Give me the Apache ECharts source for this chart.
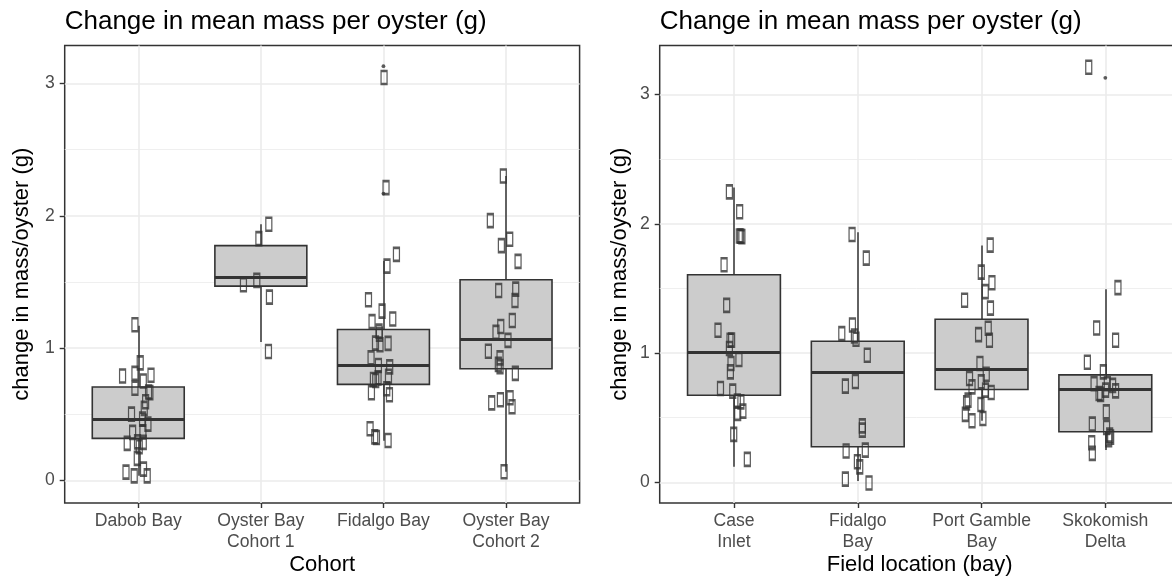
<!DOCTYPE html>
<html>
<head>
<meta charset="utf-8">
<script src="https://cdn.jsdelivr.net/npm/echarts@6/dist/echarts.min.js"></script>
<style>
  html, body { margin: 0; padding: 0; background: #fff; }
  #chart { width: 1172px; height: 579px; }
</style>
</head>
<body>
<div id="chart"></div>
<script>
// ---- data ----
var cohortNames = ['Dabob Bay', 'Oyster Bay\nCohort 1', 'Fidalgo Bay', 'Oyster Bay\nCohort 2'];
// [lower whisker, Q1, median, Q3, upper whisker]
var cohortBoxes = [
  [0.035, 0.318, 0.462, 0.707, 1.17],
  [1.046, 1.469, 1.533, 1.775, 1.936],
  [0.30, 0.726, 0.874, 1.141, 1.658],
  [0.066, 0.844, 1.071, 1.517, 2.301]
];
var cohortOutliers = [[], [], [3.131, 2.168], []];
var cohortPoints = [
  [1.177, 0.889, 0.79, 0.81, 0.795, 0.752, 0.697, 0.669, 0.664, 0.595, 0.545, 0.502, 0.464,
   0.426, 0.368, 0.364, 0.28, 0.292, 0.288, 0.255, 0.167, 0.086, 0.063, 0.035, 0.035],
  [1.936, 1.828, 1.512, 1.479, 1.386, 0.975],
  [3.045, 2.213, 1.709, 1.62, 1.366, 1.28, 1.22, 1.2, 1.129, 1.105, 1.038, 1.026, 1.036, 0.927,
   0.869, 0.859, 0.788, 0.763, 0.756, 0.776, 0.693, 0.663, 0.648, 0.391, 0.33, 0.325, 0.302],
  [2.301, 1.964, 1.823, 1.775, 1.656, 1.436, 1.446, 1.36, 1.209, 1.164, 1.119, 1.059, 0.977,
   0.927, 0.877, 0.86, 0.809, 0.61, 0.587, 0.625, 0.557, 0.066]
];
// horizontal jitter of each point, in category units
var cohortJitter = [
  [-0.027, 0.016, -0.128, -0.027, 0.104, 0.041, -0.027, 0.084, 0.095, 0.060, 0.049, -0.055, 0.035,
   0.079, 0.038, -0.046, -0.090, -0.006, 0.041, 0.008, -0.008, 0.043, -0.100, -0.033, 0.073],
  [0.065, -0.016, -0.033, -0.142, 0.070, 0.062],
  [0.005, 0.021, 0.106, 0.029, -0.122, -0.011, 0.076, -0.093, -0.036, -0.033, -0.065, -0.028, 0.038, -0.101,
   -0.041, 0.051, 0.041, -0.082, -0.063, -0.044, 0.027, -0.098, 0.049, -0.109, -0.071, -0.057, 0.038],
  [-0.022, -0.128, 0.030, -0.038, 0.098, -0.060, 0.079, 0.073, 0.051, -0.043, -0.082, 0.016, -0.144,
   -0.049, -0.063, -0.049, 0.076, -0.046, -0.117, 0.033, 0.049, -0.016]
];

var bayNames = ['Case\nInlet', 'Fidalgo\nBay', 'Port Gamble\nBay', 'Skokomish\nDelta'];
var bayBoxes = [
  [0.12, 0.674, 1.009, 1.606, 2.28],
  [0.01, 0.275, 0.849, 1.091, 1.935],
  [0.476, 0.718, 0.875, 1.261, 1.832],
  [0.25, 0.391, 0.718, 0.831, 1.493]
];
var bayOutliers = [[], [], [], [3.129]];
var bayPoints = [
  [2.247, 2.093, 1.904, 1.9, 1.905, 1.683, 1.369, 1.176, 1.099, 1.10, 1.035, 0.95, 0.919, 0.854,
   0.726, 0.705, 0.628, 0.622, 0.533, 0.551, 0.371, 0.178],
  [1.917, 1.734, 1.15, 1.217, 1.132, 1.107, 0.983, 0.78, 0.744, 0.437, 0.404, 0.242, 0.249, 0.159,
   0.12, 0.025, -0.005],
  [1.835, 1.626, 1.544, 1.475, 1.408, 1.348, 1.192, 1.143, 1.099, 0.919, 0.836, 0.803, 0.777, 0.738,
   0.713, 0.695, 0.636, 0.615, 0.602, 0.525, 0.476, 0.494],
  [3.211, 1.506, 1.194, 1.099, 0.929, 0.854, 0.764, 0.764, 0.75, 0.713, 0.707, 0.687, 0.68, 0.545,
   0.45, 0.425, 0.365, 0.35, 0.33, 0.306, 0.224]
];
var bayJitter = [
  [-0.037, 0.046, 0.054, 0.064, 0.043, -0.080, -0.059, -0.129, -0.032, -0.019, -0.037, 0.040, -0.024, -0.029,
   -0.109, -0.010, 0.027, 0.056, 0.030, 0.072, -0.002, 0.108],
  [-0.046, 0.069, -0.129, -0.043, -0.027, -0.014, 0.077, -0.019, -0.100, 0.037, 0.037, -0.094, 0.061, -0.003,
   0.016, -0.100, 0.091],
  [0.070, -0.002, 0.084, 0.030, -0.137, 0.072, 0.054, -0.024, 0.064, -0.013, 0.038, -0.097, -0.002, -0.077,
   0.032, 0.078, -0.109, -0.121, -0.005, -0.131, -0.077, 0.011],
  [-0.134, 0.102, -0.070, 0.083, -0.145, -0.016, -0.091, 0.016, 0.059, 0.002, 0.083, -0.051, -0.038, 0.008,
   -0.105, 0.010, 0.035, 0.043, 0.027, -0.110, -0.105]
];

var yTicks = [0, 1, 2, 3];

// ---- layout ----
var FONT = "'Liberation Sans', Arial, Helvetica, sans-serif";
var INK = '#333333';
var GRID_COL = '#ebebeb';
var BOX_WIDTH = 0.75;   // fraction of one category step
var EXPAND = 0.6;       // discrete axis padding, in category units

var panels = [
  { names: cohortNames, boxes: cohortBoxes, outliers: cohortOutliers, points: cohortPoints, jitter: cohortJitter,
    left: 64.7, right: 579.6, top: 45.5, bottom: 503, yMin: -0.17, yMax: 3.287,
    title: 'Change in mean mass per oyster (g)', xTitle: 'Cohort', yTitleX: 22 },
  { names: bayNames, boxes: bayBoxes, outliers: bayOutliers, points: bayPoints, jitter: bayJitter,
    left: 659.7, right: 1179.6, top: 45.5, bottom: 503, yMin: -0.16, yMax: 3.379,
    title: 'Change in mean mass per oyster (g)', xTitle: 'Field location (bay)', yTitleX: 620 }
];

var grid = [], xAxis = [], yAxis = [], series = [], graphic = [];

panels.forEach(function (p, k) {
  var W = p.right - p.left, H = p.bottom - p.top;
  var n = p.names.length;
  var span = n - 1 + 2 * EXPAND;
  var pxOf = function (v) { return p.bottom - (v - p.yMin) / (p.yMax - p.yMin) * H; };
  var yLo = yTicks[0], yHi = yTicks[yTicks.length - 1];
  var a = 3 * k, b = 3 * k + 1, c = 3 * k + 2;

  // A: panel frame + value x for jittered points
  grid.push({ left: p.left, top: p.top, width: W, height: H, show: true, outerBoundsMode: 'none',
    borderColor: INK, borderWidth: 1.5, backgroundColor: 'transparent' });
  // B: category axis spanning first..last category centre (boxplots, x labels, vertical grid)
  grid.push({ left: p.left + EXPAND / span * W, top: p.top, width: (n - 1) / span * W, height: H,
    outerBoundsMode: 'none' });
  // C: y ticks, labels and horizontal grid between 0 and 3
  grid.push({ left: p.left, top: pxOf(yHi), width: W, height: pxOf(yLo) - pxOf(yHi),
    outerBoundsMode: 'none' });

  xAxis.push({ gridIndex: a, type: 'value', min: -EXPAND, max: n - 1 + EXPAND, show: false });
  xAxis.push({ gridIndex: b, type: 'category', data: p.names, boundaryGap: false, position: 'bottom',
    axisLine: { show: false, onZero: false },
    axisTick: { show: true, length: 5, lineStyle: { color: INK, width: 1.4 } },
    axisLabel: { interval: 0, color: '#4d4d4d', fontSize: 17.6, fontFamily: FONT, margin: 8, lineHeight: 21 },
    splitLine: { show: true, lineStyle: { color: GRID_COL, width: 1.6 } } });
  xAxis.push({ gridIndex: c, type: 'value', show: false });

  yAxis.push({ gridIndex: a, type: 'value', min: p.yMin, max: p.yMax, show: false });
  yAxis.push({ gridIndex: b, type: 'value', min: p.yMin, max: p.yMax, show: false });
  yAxis.push({ gridIndex: c, type: 'value', min: yLo, max: yHi, interval: 1,
    axisLine: { show: false, onZero: false },
    axisTick: { show: true, length: 5, lineStyle: { color: INK, width: 1.4 } },
    axisLabel: { color: '#4d4d4d', fontSize: 17.6, fontFamily: FONT, margin: 10 },
    splitLine: { show: true, lineStyle: { color: GRID_COL, width: 1.6 } },
    minorTick: { show: false, splitNumber: 2 },
    minorSplitLine: { show: true, lineStyle: { color: GRID_COL, width: 0.8 } } });

  // whiskers, behind the boxes
  series.push({ type: 'lines', coordinateSystem: 'cartesian2d', xAxisIndex: a, yAxisIndex: a, z: 2,
    silent: true, lineStyle: { color: INK, width: 1.5, opacity: 1 },
    data: p.boxes.map(function (s, i) { return { coords: [[i, s[0]], [i, s[4]]] }; }) });
  // boxes
  series.push({ type: 'boxplot', xAxisIndex: b, yAxisIndex: b, z: 3, silent: true,
    boxWidth: [BOX_WIDTH * 100 + '%', BOX_WIDTH * 100 + '%'],
    itemStyle: { color: '#cccccc', borderColor: INK, borderWidth: 1.6 },
    data: p.boxes.map(function (s) { return [s[1], s[1], s[2], s[3], s[3]]; }) });
  // thick median line
  series.push({ type: 'lines', coordinateSystem: 'cartesian2d', xAxisIndex: a, yAxisIndex: a, z: 4,
    silent: true, lineStyle: { color: INK, width: 3, opacity: 1 },
    data: p.boxes.map(function (s, i) {
      return { coords: [[i - BOX_WIDTH / 2, s[2]], [i + BOX_WIDTH / 2, s[2]]] };
    }) });
  // boxplot outliers
  var out = [];
  p.outliers.forEach(function (vals, i) { vals.forEach(function (v) { out.push([i, v]); }); });
  series.push({ type: 'scatter', xAxisIndex: a, yAxisIndex: a, z: 5, silent: true,
    symbol: 'circle', symbolSize: 3.8, itemStyle: { color: INK }, data: out });
  // jittered points
  var pts = [];
  p.points.forEach(function (vals, i) {
    vals.forEach(function (v, j) { pts.push([i + p.jitter[i][j], v]); });
  });
  series.push({ type: 'scatter', xAxisIndex: a, yAxisIndex: a, z: 6, silent: true,
    symbol: 'rect', symbolSize: [6, 13],
    itemStyle: { color: 'rgba(0,0,0,0)', borderColor: INK, borderWidth: 1.8 }, data: pts });

  // titles
  graphic.push({ type: 'text', x: p.left, y: 22,
    style: { text: p.title, fontSize: 26, fontFamily: FONT, fill: '#000', align: 'left', verticalAlign: 'middle' } });
  graphic.push({ type: 'text', x: (p.left + p.right) / 2, y: 565,
    style: { text: p.xTitle, fontSize: 22, fontFamily: FONT, fill: '#000', align: 'center', verticalAlign: 'middle' } });
  graphic.push({ type: 'text', x: p.yTitleX, y: (p.top + p.bottom) / 2, rotation: Math.PI / 2,
    style: { text: 'change in mass/oyster (g)', fontSize: 22, fontFamily: FONT, fill: '#000',
      align: 'center', verticalAlign: 'middle' } });
});

var myChart = echarts.init(document.getElementById('chart'));
myChart.setOption({
  backgroundColor: '#ffffff',
  animation: false,
  grid: grid,
  xAxis: xAxis,
  yAxis: yAxis,
  series: series,
  graphic: graphic
});
</script>
</body>
</html>
